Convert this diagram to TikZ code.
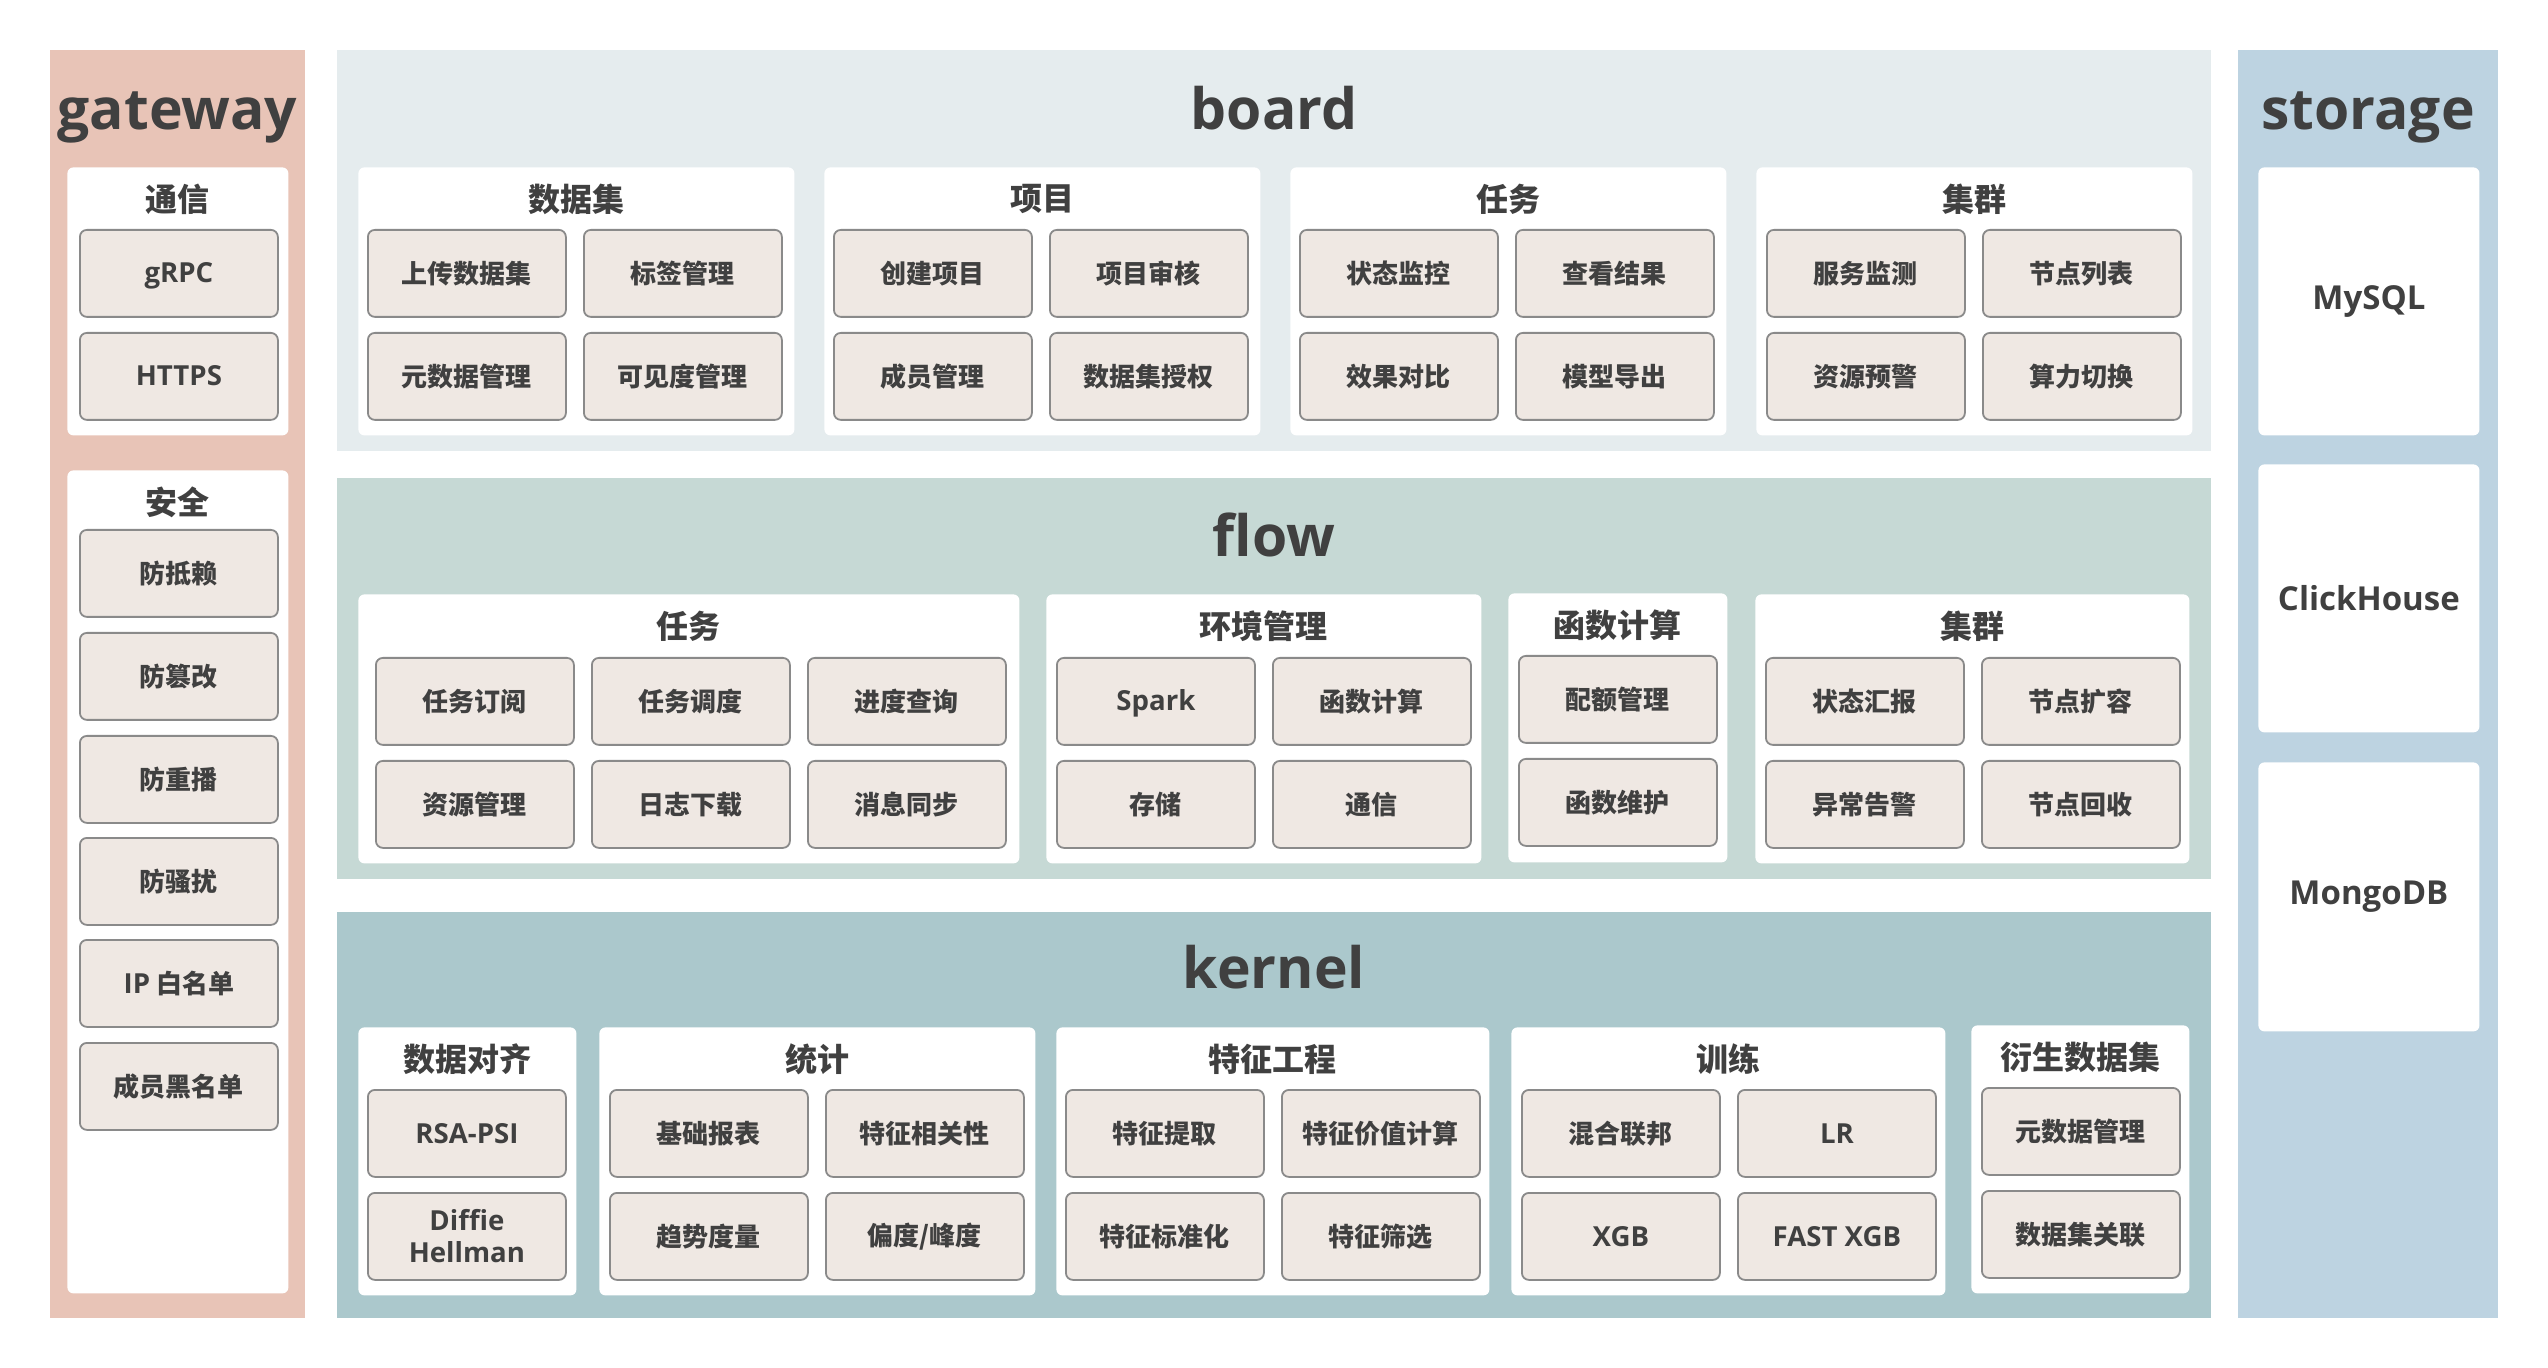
\documentclass[tikz,border=0pt]{standalone}
\usepackage{fontspec}
\setmainfont{Open Sans}
\newfontfamily\cjk{Noto Sans CJK SC}
\definecolor{gwc}{HTML}{E8C4B7}
\definecolor{bdc}{HTML}{E5ECEE}
\definecolor{flc}{HTML}{C6D9D5}
\definecolor{knc}{HTML}{ABC8CC}
\definecolor{stc}{HTML}{BDD3E1}
\definecolor{boxfill}{HTML}{EFE8E3}
\definecolor{boxline}{HTML}{8A8A8A}
\definecolor{txt}{HTML}{404040}
\tikzset{
  panel/.style={anchor=north west, inner sep=0pt, outer sep=0pt, draw=none},
  wbox/.style={anchor=north west, inner sep=0pt, fill=white, draw=none, rounded corners=3pt},
  gbox/.style={anchor=north west, inner sep=0pt, fill=boxfill, draw=boxline, line width=0.9pt,
    rounded corners=3.5pt, minimum width=99pt, minimum height=43.5pt, text=txt,
    font=\cjk\bfseries\fontsize{13pt}{15pt}\selectfont},
  latg/.style={font=\bfseries\fontsize{13.8pt}{16pt}\selectfont, text height=9.6pt, text depth=-0.6pt},
  latm/.style={font=\bfseries\fontsize{13.8pt}{16pt}\selectfont, align=center},
  ttl/.style={text=txt, inner sep=0pt, font=\cjk\bfseries\fontsize{16pt}{18pt}\selectfont},
  big/.style={text=txt, anchor=base, inner sep=0pt, font=\bfseries\fontsize{28.5pt}{34pt}\selectfont},
  stl/.style={text=txt, inner sep=0pt, font=\bfseries\fontsize{16.5pt}{19pt}\selectfont}
}
\newcommand\WB[6]{%
  \node[wbox, minimum width=#4*0.5pt, minimum height=#5*0.5pt] (#1) at (#2,#3) {};
  \node[ttl] (#1t) at ({#2+#4/2},{#3+32}) {#6};}
\newcommand\GB[4]{\node[gbox] (#1) at (#2,#3) {#4};}
\newcommand\GL[4]{\node[gbox, latg] (#1) at (#2,#3) {#4};}
\begin{document}
\begin{tikzpicture}[x=0.5pt, y=-0.5pt]
\useasboundingbox[fill=white] (0,0) rectangle (2548,1368);
% ---------- panels
\node[panel, fill=gwc, minimum width=127.5pt, minimum height=634pt] (gw) at (50,50) {};
\node[panel, fill=bdc, minimum width=937pt, minimum height=200.5pt] (bd) at (337,50) {};
\node[panel, fill=flc, minimum width=937pt, minimum height=200.5pt] (fl) at (337,478) {};
\node[panel, fill=knc, minimum width=937pt, minimum height=203pt] (kn) at (337,912) {};
\node[panel, fill=stc, minimum width=130pt, minimum height=634pt] (st) at (2238,50) {};
% ---------- panel titles
\node[big] (gwt) at (177.5,130) {gateway};
\node[big] (bdt) at (1274,130) {board};
\node[big] (flt) at (1274,557) {flow};
\node[big] (knt) at (1274,988) {kernel};
\node[big] (stt) at (2368,130) {storage};
% ---------- gateway
\WB{g1}{67}{167}{221}{268}{通信}
\GL{g1a}{79}{229}{gRPC}
\GL{g1b}{79}{332}{HTTPS}
\WB{g2}{67}{470}{221}{823}{安全}
\GB{g2a}{79}{529}{防抵赖}
\GB{g2b}{79}{632}{防篡改}
\GB{g2c}{79}{735}{防重播}
\GB{g2d}{79}{837}{防骚扰}
\GB{g2e}{79}{939}{{\bfseries\fontspec{Open Sans}\fontsize{13.8pt}{16pt}\selectfont IP} 白名单}
\GB{g2f}{79}{1042}{成员黑名单}
% ---------- board
\WB{b1}{358}{167}{436}{268}{数据集}
\GB{b1a}{367}{229}{上传数据集}
\GB{b1b}{583}{229}{标签管理}
\GB{b1c}{367}{332}{元数据管理}
\GB{b1d}{583}{332}{可见度管理}
\WB{b2}{824}{167}{436}{268}{项目}
\GB{b2a}{833}{229}{创建项目}
\GB{b2b}{1049}{229}{项目审核}
\GB{b2c}{833}{332}{成员管理}
\GB{b2d}{1049}{332}{数据集授权}
\WB{b3}{1290}{167}{436}{268}{任务}
\GB{b3a}{1299}{229}{状态监控}
\GB{b3b}{1515}{229}{查看结果}
\GB{b3c}{1299}{332}{效果对比}
\GB{b3d}{1515}{332}{模型导出}
\WB{b4}{1756}{167}{436}{268}{集群}
\GB{b4a}{1766}{229}{服务监测}
\GB{b4b}{1982}{229}{节点列表}
\GB{b4c}{1766}{332}{资源预警}
\GB{b4d}{1982}{332}{算力切换}
% ---------- flow
\WB{f1}{358}{594}{661}{269}{任务}
\GB{f1a}{375}{657}{任务订阅}
\GB{f1b}{591}{657}{任务调度}
\GB{f1c}{807}{657}{进度查询}
\GB{f1d}{375}{760}{资源管理}
\GB{f1e}{591}{760}{日志下载}
\GB{f1f}{807}{760}{消息同步}
\WB{f2}{1046}{594}{435}{269}{环境管理}
\GL{f2a}{1056}{657}{Spark}
\GB{f2b}{1272}{657}{函数计算}
\GB{f2c}{1056}{760}{存储}
\GB{f2d}{1272}{760}{通信}
\WB{f3}{1508}{593}{219}{269}{函数计算}
\GB{f3a}{1518}{655}{配额管理}
\GB{f3b}{1518}{758}{函数维护}
\WB{f4}{1755}{594}{434}{269}{集群}
\GB{f4a}{1765}{657}{状态汇报}
\GB{f4b}{1981}{657}{节点扩容}
\GB{f4c}{1765}{760}{异常告警}
\GB{f4d}{1981}{760}{节点回收}
% ---------- kernel
\WB{k1}{358}{1027}{218}{268}{数据对齐}
\GL{k1a}{367}{1089}{RSA-PSI}
\node[gbox, latm] (k1b) at (367,1192) {Diffie\\Hellman};
\WB{k2}{599}{1027}{436}{268}{统计}
\GB{k2a}{609}{1089}{基础报表}
\GB{k2b}{825}{1089}{特征相关性}
\GB{k2c}{609}{1192}{趋势度量}
\GB{k2d}{825}{1192}{偏度/峰度}
\WB{k3}{1056}{1027}{433}{268}{特征工程}
\GB{k3a}{1065}{1089}{特征提取}
\GB{k3b}{1281}{1089}{特征价值计算}
\GB{k3c}{1065}{1192}{特征标准化}
\GB{k3d}{1281}{1192}{特征筛选}
\WB{k4}{1511}{1027}{434}{268}{训练}
\GB{k4a}{1521}{1089}{混合联邦}
\GL{k4b}{1737}{1089}{LR}
\GL{k4c}{1521}{1192}{XGB}
\GL{k4d}{1737}{1192}{FAST XGB}
\WB{k5}{1971}{1025}{218}{268}{衍生数据集}
\GB{k5a}{1981}{1087}{元数据管理}
\GB{k5b}{1981}{1190}{数据集关联}
% ---------- storage
\node[wbox, minimum width=110.5pt, minimum height=134pt] (s1) at (2258,167) {};
\node[wbox, minimum width=110.5pt, minimum height=134pt] (s2) at (2258,464) {};
\node[wbox, minimum width=110.5pt, minimum height=134.5pt] (s3) at (2258,762) {};
\node[stl] (s1t) at (s1.center) {MySQL};
\node[stl] (s2t) at (s2.center) {ClickHouse};
\node[stl] (s3t) at (s3.center) {MongoDB};
\end{tikzpicture}
\end{document}
